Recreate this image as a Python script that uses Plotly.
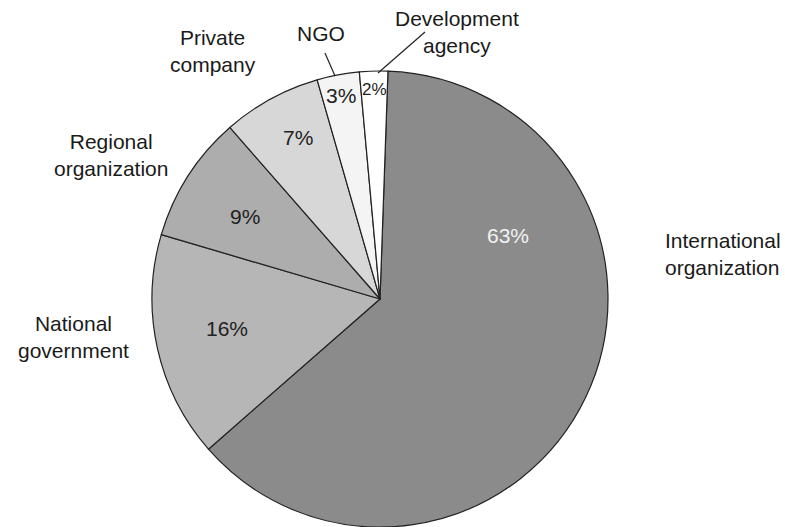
import plotly.graph_objects as go

W, H = 785, 527

categories = ["International organization", "National government", "Regional organization",
              "Private company", "NGO", "Development agency"]
label_lines = ["International<br>organization", "National<br>government", "Regional<br>organization",
               "Private<br>company", "NGO", "Development<br>agency"]
values = [63, 16, 9, 7, 3, 2]
colors = ["#8b8b8b", "#b6b6b6", "#adadad", "#d7d7d7", "#f4f4f4", "#ffffff"]

# layout (pixel positions of the text, converted to paper coords)
pct_pos = [(508, 235), (227, 328), (245, 216), (298, 137), (341, 95), (374, 89)]
pct_size = [21, 21, 21, 21, 21, 17]
pct_color = ["#f2f2f2", "#222222", "#222222", "#222222", "#222222", "#222222"]
name_pos = [(663, 254, "left"), (73, 337, "center"), (111, 155, "center"),
            (213, 51, "center"), (321, 33, "center"), (457, 32, "center")]
leaders = [((335, 76), (325, 53)), ((378, 73), (425, 32))]

cx, cy, r = 380, 299, 228

def px(x):
    return x / W

def py(y):
    return 1 - y / H

fig = go.Figure(go.Pie(
    labels=categories,
    values=values,
    sort=False,
    direction="clockwise",
    rotation=2,
    marker=dict(colors=colors, line=dict(color="#222222", width=1.2)),
    textinfo="none",
    hoverinfo="label+percent",
    showlegend=False,
    domain=dict(x=[px(cx - r), px(cx + r)], y=[py(cy + r), py(cy - r)]),
))

font_family = "Liberation Sans, Arial, sans-serif"
annotations = []
for v, (x, y), s, c in zip(values, pct_pos, pct_size, pct_color):
    annotations.append(dict(x=px(x), y=py(y), xref="paper", yref="paper", text=f"{v}%",
                            showarrow=False, xanchor="center", yanchor="middle",
                            font=dict(family=font_family, size=s, color=c)))
for txt, (x, y, al) in zip(label_lines, name_pos):
    annotations.append(dict(x=px(x), y=py(y), xref="paper", yref="paper", text=txt,
                            showarrow=False, xanchor=al, yanchor="middle", align=al,
                            font=dict(family=font_family, size=21, color="#1a1a1a")))

shapes = [dict(type="line", xref="paper", yref="paper", x0=px(a[0]), y0=py(a[1]),
               x1=px(b[0]), y1=py(b[1]), line=dict(color="#222222", width=1.2))
          for a, b in leaders]

fig.update_layout(
    width=W, height=H,
    margin=dict(l=0, r=0, t=0, b=0),
    paper_bgcolor="white", plot_bgcolor="white",
    annotations=annotations, shapes=shapes,
)

fig.write_html("out.html")
